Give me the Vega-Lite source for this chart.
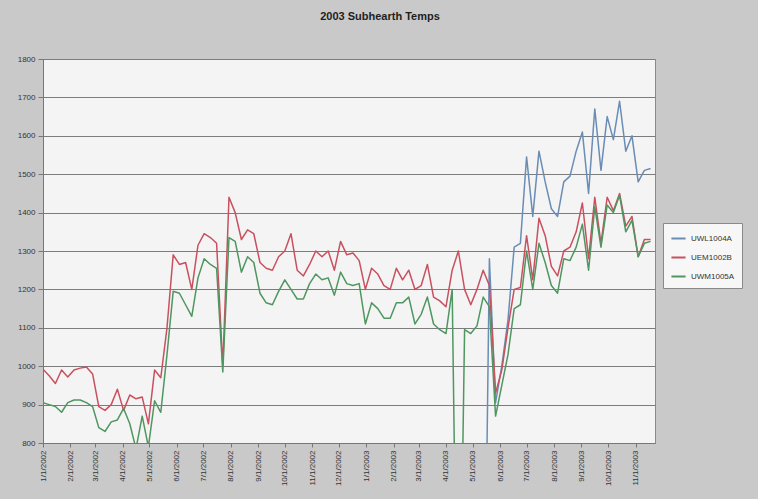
{
  "$schema": "https://vega.github.io/schema/vega-lite/v6.json",
  "width": 612,
  "height": 384,
  "autosize": {"type": "none"},
  "padding": {"left": 43, "top": 59, "right": 103, "bottom": 56},
  "background": "#c9c9c9",
  "title": {
    "text": "2003 Subhearth Temps",
    "font": "Liberation Sans",
    "fontSize": 11,
    "fontWeight": "bold",
    "color": "#1e1e1e",
    "anchor": "middle",
    "dx": 31,
    "offset": 33
  },
  "config": {
    "view": {"fill": "#f4f4f4", "stroke": "#8a8a8a", "strokeWidth": 1},
    "axis": {
      "labelFont": "Liberation Sans",
      "labelFontSize": 8,
      "labelColor": "#333333",
      "domainColor": "#777777",
      "tickColor": "#777777",
      "title": null
    }
  },
  "data": {
    "values": [
      {"date": "2002-01-01", "UWL1004A": 0, "UEM1002B": 992, "UWM1005A": 905},
      {"date": "2002-01-08", "UWL1004A": 0, "UEM1002B": 975, "UWM1005A": 900},
      {"date": "2002-01-15", "UWL1004A": 0, "UEM1002B": 955, "UWM1005A": 895},
      {"date": "2002-01-22", "UWL1004A": 0, "UEM1002B": 990, "UWM1005A": 880},
      {"date": "2002-01-29", "UWL1004A": 0, "UEM1002B": 972, "UWM1005A": 905},
      {"date": "2002-02-05", "UWL1004A": 0, "UEM1002B": 990, "UWM1005A": 912},
      {"date": "2002-02-12", "UWL1004A": 0, "UEM1002B": 995, "UWM1005A": 912},
      {"date": "2002-02-19", "UWL1004A": 0, "UEM1002B": 998, "UWM1005A": 905},
      {"date": "2002-02-26", "UWL1004A": 0, "UEM1002B": 980, "UWM1005A": 895},
      {"date": "2002-03-05", "UWL1004A": 0, "UEM1002B": 895, "UWM1005A": 840},
      {"date": "2002-03-12", "UWL1004A": 0, "UEM1002B": 885, "UWM1005A": 830},
      {"date": "2002-03-19", "UWL1004A": 0, "UEM1002B": 900, "UWM1005A": 855},
      {"date": "2002-03-26", "UWL1004A": 0, "UEM1002B": 940, "UWM1005A": 860},
      {"date": "2002-04-02", "UWL1004A": 0, "UEM1002B": 885, "UWM1005A": 890},
      {"date": "2002-04-09", "UWL1004A": 0, "UEM1002B": 925, "UWM1005A": 850},
      {"date": "2002-04-16", "UWL1004A": 0, "UEM1002B": 915, "UWM1005A": 785},
      {"date": "2002-04-23", "UWL1004A": 0, "UEM1002B": 920, "UWM1005A": 870},
      {"date": "2002-04-30", "UWL1004A": 0, "UEM1002B": 850, "UWM1005A": 790},
      {"date": "2002-05-07", "UWL1004A": 0, "UEM1002B": 990, "UWM1005A": 910},
      {"date": "2002-05-14", "UWL1004A": 0, "UEM1002B": 970, "UWM1005A": 880},
      {"date": "2002-05-21", "UWL1004A": 0, "UEM1002B": 1100, "UWM1005A": 1030},
      {"date": "2002-05-28", "UWL1004A": 0, "UEM1002B": 1290, "UWM1005A": 1195},
      {"date": "2002-06-04", "UWL1004A": 0, "UEM1002B": 1265, "UWM1005A": 1190},
      {"date": "2002-06-11", "UWL1004A": 0, "UEM1002B": 1270, "UWM1005A": 1160},
      {"date": "2002-06-18", "UWL1004A": 0, "UEM1002B": 1200, "UWM1005A": 1130},
      {"date": "2002-06-25", "UWL1004A": 0, "UEM1002B": 1315, "UWM1005A": 1230},
      {"date": "2002-07-02", "UWL1004A": 0, "UEM1002B": 1345, "UWM1005A": 1280},
      {"date": "2002-07-09", "UWL1004A": 0, "UEM1002B": 1335, "UWM1005A": 1265},
      {"date": "2002-07-16", "UWL1004A": 0, "UEM1002B": 1320, "UWM1005A": 1255},
      {"date": "2002-07-23", "UWL1004A": 0, "UEM1002B": 1000, "UWM1005A": 985},
      {"date": "2002-07-30", "UWL1004A": 0, "UEM1002B": 1440, "UWM1005A": 1335},
      {"date": "2002-08-06", "UWL1004A": 0, "UEM1002B": 1400, "UWM1005A": 1325},
      {"date": "2002-08-13", "UWL1004A": 0, "UEM1002B": 1330, "UWM1005A": 1245},
      {"date": "2002-08-20", "UWL1004A": 0, "UEM1002B": 1355, "UWM1005A": 1285},
      {"date": "2002-08-27", "UWL1004A": 0, "UEM1002B": 1345, "UWM1005A": 1270},
      {"date": "2002-09-03", "UWL1004A": 0, "UEM1002B": 1270, "UWM1005A": 1190},
      {"date": "2002-09-10", "UWL1004A": 0, "UEM1002B": 1255, "UWM1005A": 1165},
      {"date": "2002-09-17", "UWL1004A": 0, "UEM1002B": 1250, "UWM1005A": 1160},
      {"date": "2002-09-24", "UWL1004A": 0, "UEM1002B": 1285, "UWM1005A": 1195},
      {"date": "2002-10-01", "UWL1004A": 0, "UEM1002B": 1300, "UWM1005A": 1225},
      {"date": "2002-10-08", "UWL1004A": 0, "UEM1002B": 1345, "UWM1005A": 1200},
      {"date": "2002-10-15", "UWL1004A": 0, "UEM1002B": 1250, "UWM1005A": 1175},
      {"date": "2002-10-22", "UWL1004A": 0, "UEM1002B": 1235, "UWM1005A": 1175},
      {"date": "2002-10-29", "UWL1004A": 0, "UEM1002B": 1265, "UWM1005A": 1215},
      {"date": "2002-11-05", "UWL1004A": 0, "UEM1002B": 1300, "UWM1005A": 1240},
      {"date": "2002-11-12", "UWL1004A": 0, "UEM1002B": 1285, "UWM1005A": 1225},
      {"date": "2002-11-19", "UWL1004A": 0, "UEM1002B": 1300, "UWM1005A": 1230},
      {"date": "2002-11-26", "UWL1004A": 0, "UEM1002B": 1250, "UWM1005A": 1185},
      {"date": "2002-12-03", "UWL1004A": 0, "UEM1002B": 1325, "UWM1005A": 1245},
      {"date": "2002-12-10", "UWL1004A": 0, "UEM1002B": 1290, "UWM1005A": 1215},
      {"date": "2002-12-17", "UWL1004A": 0, "UEM1002B": 1295, "UWM1005A": 1210},
      {"date": "2002-12-24", "UWL1004A": 0, "UEM1002B": 1275, "UWM1005A": 1215},
      {"date": "2002-12-31", "UWL1004A": 0, "UEM1002B": 1200, "UWM1005A": 1110},
      {"date": "2003-01-07", "UWL1004A": 0, "UEM1002B": 1255, "UWM1005A": 1165},
      {"date": "2003-01-14", "UWL1004A": 0, "UEM1002B": 1240, "UWM1005A": 1150},
      {"date": "2003-01-21", "UWL1004A": 0, "UEM1002B": 1210, "UWM1005A": 1125},
      {"date": "2003-01-28", "UWL1004A": 0, "UEM1002B": 1200, "UWM1005A": 1125},
      {"date": "2003-02-04", "UWL1004A": 0, "UEM1002B": 1255, "UWM1005A": 1165},
      {"date": "2003-02-11", "UWL1004A": 0, "UEM1002B": 1225, "UWM1005A": 1165},
      {"date": "2003-02-18", "UWL1004A": 0, "UEM1002B": 1250, "UWM1005A": 1180},
      {"date": "2003-02-25", "UWL1004A": 0, "UEM1002B": 1200, "UWM1005A": 1110},
      {"date": "2003-03-04", "UWL1004A": 0, "UEM1002B": 1210, "UWM1005A": 1135},
      {"date": "2003-03-11", "UWL1004A": 0, "UEM1002B": 1265, "UWM1005A": 1180},
      {"date": "2003-03-18", "UWL1004A": 0, "UEM1002B": 1180, "UWM1005A": 1110},
      {"date": "2003-03-25", "UWL1004A": 0, "UEM1002B": 1170, "UWM1005A": 1095},
      {"date": "2003-04-01", "UWL1004A": 0, "UEM1002B": 1155, "UWM1005A": 1085},
      {"date": "2003-04-08", "UWL1004A": 0, "UEM1002B": 1250, "UWM1005A": 1200},
      {"date": "2003-04-15", "UWL1004A": 0, "UEM1002B": 1300, "UWM1005A": 0},
      {"date": "2003-04-22", "UWL1004A": 0, "UEM1002B": 1200, "UWM1005A": 1095},
      {"date": "2003-04-29", "UWL1004A": 0, "UEM1002B": 1160, "UWM1005A": 1085},
      {"date": "2003-05-06", "UWL1004A": 0, "UEM1002B": 1200, "UWM1005A": 1105},
      {"date": "2003-05-13", "UWL1004A": 0, "UEM1002B": 1250, "UWM1005A": 1180},
      {"date": "2003-05-20", "UWL1004A": 1280, "UEM1002B": 1210, "UWM1005A": 1155},
      {"date": "2003-05-27", "UWL1004A": 905, "UEM1002B": 930, "UWM1005A": 870},
      {"date": "2003-06-03", "UWL1004A": 1000, "UEM1002B": 990, "UWM1005A": 950},
      {"date": "2003-06-10", "UWL1004A": 1120, "UEM1002B": 1100, "UWM1005A": 1030},
      {"date": "2003-06-17", "UWL1004A": 1310, "UEM1002B": 1200, "UWM1005A": 1150},
      {"date": "2003-06-24", "UWL1004A": 1320, "UEM1002B": 1205, "UWM1005A": 1160},
      {"date": "2003-07-01", "UWL1004A": 1545, "UEM1002B": 1340, "UWM1005A": 1300},
      {"date": "2003-07-08", "UWL1004A": 1390, "UEM1002B": 1225, "UWM1005A": 1200},
      {"date": "2003-07-15", "UWL1004A": 1560, "UEM1002B": 1385, "UWM1005A": 1320},
      {"date": "2003-07-22", "UWL1004A": 1480, "UEM1002B": 1340, "UWM1005A": 1270},
      {"date": "2003-07-29", "UWL1004A": 1410, "UEM1002B": 1260, "UWM1005A": 1210},
      {"date": "2003-08-05", "UWL1004A": 1390, "UEM1002B": 1235, "UWM1005A": 1190},
      {"date": "2003-08-12", "UWL1004A": 1480, "UEM1002B": 1300, "UWM1005A": 1280},
      {"date": "2003-08-19", "UWL1004A": 1495, "UEM1002B": 1310, "UWM1005A": 1275},
      {"date": "2003-08-26", "UWL1004A": 1560, "UEM1002B": 1350, "UWM1005A": 1310},
      {"date": "2003-09-02", "UWL1004A": 1610, "UEM1002B": 1425, "UWM1005A": 1370},
      {"date": "2003-09-09", "UWL1004A": 1450, "UEM1002B": 1280, "UWM1005A": 1250},
      {"date": "2003-09-16", "UWL1004A": 1670, "UEM1002B": 1440, "UWM1005A": 1415},
      {"date": "2003-09-23", "UWL1004A": 1510, "UEM1002B": 1320, "UWM1005A": 1310},
      {"date": "2003-09-30", "UWL1004A": 1650, "UEM1002B": 1440, "UWM1005A": 1420},
      {"date": "2003-10-07", "UWL1004A": 1590, "UEM1002B": 1405, "UWM1005A": 1400},
      {"date": "2003-10-14", "UWL1004A": 1690, "UEM1002B": 1450, "UWM1005A": 1445},
      {"date": "2003-10-21", "UWL1004A": 1560, "UEM1002B": 1365, "UWM1005A": 1350},
      {"date": "2003-10-28", "UWL1004A": 1600, "UEM1002B": 1390, "UWM1005A": 1380},
      {"date": "2003-11-04", "UWL1004A": 1480, "UEM1002B": 1285, "UWM1005A": 1285},
      {"date": "2003-11-11", "UWL1004A": 1510, "UEM1002B": 1330, "UWM1005A": 1320},
      {"date": "2003-11-18", "UWL1004A": 1515, "UEM1002B": 1330, "UWM1005A": 1325}
    ]
  },
  "transform": [
    {"fold": ["UWL1004A", "UEM1002B", "UWM1005A"], "as": ["sensor", "temp"]}
  ],
  "mark": {"type": "line", "clip": true, "strokeWidth": 1.5, "strokeJoin": "round"},
  "encoding": {
    "x": {
      "field": "date",
      "type": "temporal",
      "scale": {
        "type": "utc",
        "domain": [
          {"year": 2002, "month": 1, "date": 1, "utc": true},
          {"year": 2003, "month": 11, "date": 23, "utc": true}
        ]
      },
      "axis": {
        "labelExpr": "utcFormat(datum.value, '%-m/%-d/%Y')",
        "labelAngle": 270,
        "labelPadding": 3,
        "tickSize": 4,
        "grid": false,
        "labelOverlap": false,
        "values": [
          {"year": 2002, "month": 1, "date": 1, "utc": true},
          {"year": 2002, "month": 2, "date": 1, "utc": true},
          {"year": 2002, "month": 3, "date": 1, "utc": true},
          {"year": 2002, "month": 4, "date": 1, "utc": true},
          {"year": 2002, "month": 5, "date": 1, "utc": true},
          {"year": 2002, "month": 6, "date": 1, "utc": true},
          {"year": 2002, "month": 7, "date": 1, "utc": true},
          {"year": 2002, "month": 8, "date": 1, "utc": true},
          {"year": 2002, "month": 9, "date": 1, "utc": true},
          {"year": 2002, "month": 10, "date": 1, "utc": true},
          {"year": 2002, "month": 11, "date": 1, "utc": true},
          {"year": 2002, "month": 12, "date": 1, "utc": true},
          {"year": 2003, "month": 1, "date": 1, "utc": true},
          {"year": 2003, "month": 2, "date": 1, "utc": true},
          {"year": 2003, "month": 3, "date": 1, "utc": true},
          {"year": 2003, "month": 4, "date": 1, "utc": true},
          {"year": 2003, "month": 5, "date": 1, "utc": true},
          {"year": 2003, "month": 6, "date": 1, "utc": true},
          {"year": 2003, "month": 7, "date": 1, "utc": true},
          {"year": 2003, "month": 8, "date": 1, "utc": true},
          {"year": 2003, "month": 9, "date": 1, "utc": true},
          {"year": 2003, "month": 10, "date": 1, "utc": true},
          {"year": 2003, "month": 11, "date": 1, "utc": true}
        ]
      }
    },
    "y": {
      "field": "temp",
      "type": "quantitative",
      "scale": {"domain": [800, 1800], "nice": false, "zero": false},
      "axis": {
        "values": [800, 900, 1000, 1100, 1200, 1300, 1400, 1500, 1600, 1700, 1800],
        "format": "d",
        "grid": true,
        "gridColor": "#7c7c7c",
        "gridWidth": 1,
        "tickSize": 5,
        "labelPadding": 3
      }
    },
    "color": {
      "field": "sensor",
      "type": "nominal",
      "scale": {
        "domain": ["UWL1004A", "UEM1002B", "UWM1005A"],
        "range": ["#6a8db5", "#c9505f", "#4f9660"]
      },
      "legend": {
        "title": null,
        "orient": "none",
        "legendX": 620,
        "legendY": 164,
        "symbolType": "stroke",
        "symbolStrokeWidth": 2,
        "symbolSize": 200,
        "labelFont": "Liberation Sans",
        "labelFontSize": 8,
        "labelColor": "#333333",
        "rowPadding": 6,
        "padding": 7,
        "fillColor": "#f7f7f7",
        "strokeColor": "#8a8a8a"
      }
    }
  }
}
